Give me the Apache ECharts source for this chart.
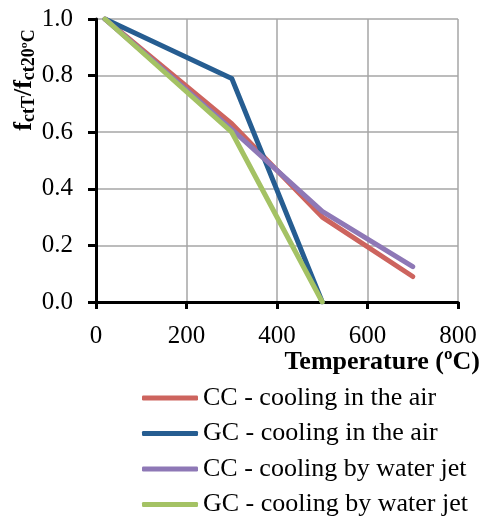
<!DOCTYPE html>
<html><head><meta charset="utf-8">
<script src="https://cdn.jsdelivr.net/npm/echarts@6/dist/echarts.min.js"></script>
<style>html,body{margin:0;padding:0;background:#fff}#c{width:483px;height:517px}</style>
</head><body><div id="c"></div>
<script>
const seriesNames = ['CC - cooling in the air','GC - cooling in the air','CC - cooling by water jet','GC - cooling by water jet'];
const ccAirX = [20, 300, 500, 700];
const ccAirY = [1.0, 0.63, 0.30, 0.09];
const gcAirX = [20, 300, 500];
const gcAirY = [1.0, 0.79, 0.0];
const ccWaterX = [20, 300, 500, 700];
const ccWaterY = [1.0, 0.61, 0.32, 0.125];
const gcWaterX = [20, 300, 500];
const gcWaterY = [1.0, 0.60, 0.0];
const colors = ['#CD645E','#265D91','#8E78B6','#A4C264'];
const xs = [ccAirX, gcAirX, ccWaterX, gcWaterX];
const ys = [ccAirY, gcAirY, ccWaterY, gcWaterY];
const font = '"Liberation Serif","Times New Roman",serif';
const chart = echarts.init(document.getElementById('c'), null, {renderer:'canvas'});
chart.setOption({
  animation:false,
  backgroundColor:'#fff',
  grid:{left:96,right:24,top:19,bottom:215,containLabel:false},
  xAxis:{type:'value',min:0,max:800,interval:200,
    axisLine:{show:true,onZero:false,lineStyle:{color:'#000',width:3}},
    axisTick:{show:true,inside:false,length:7,lineStyle:{color:'#000',width:3}},
    axisLabel:{color:'#000',fontFamily:font,fontSize:25,margin:22},
    splitLine:{show:true,lineStyle:{color:'#a6a6a6',width:1.5}},
    name:'Temperature (ºC)',nameLocation:'end',nameGap:0,
    nameTextStyle:{color:'#000',fontFamily:font,fontSize:26,fontWeight:'bold',align:'right',verticalAlign:'top',padding:[47,-22,0,0]}
  },
  yAxis:{type:'value',min:0,max:1,interval:0.2,
    axisLine:{show:true,onZero:false,lineStyle:{color:'#000',width:3}},
    axisTick:{show:true,inside:false,length:8,lineStyle:{color:'#000',width:3}},
    axisLabel:{color:'#000',fontFamily:font,fontSize:25,margin:23,formatter:v=>v.toFixed(1)},
    splitLine:{show:true,lineStyle:{color:'#a6a6a6',width:1.5}}
  },
  legend:{orient:'vertical',left:137,top:380,height:135,itemWidth:56,itemHeight:5,itemGap:9.5,
    icon:'roundRect',
    textStyle:{color:'#000',fontFamily:font,fontSize:26,lineHeight:26},
    data:seriesNames},
  graphic:[{type:'text',x:24,y:80,rotation:Math.PI/2,
    style:{text:'{b|f}{s|ctT}{b|/f}{s|ct20ºC}',align:'center',verticalAlign:'middle',
      rich:{b:{fontFamily:font,fontSize:26,fontWeight:'bold',fill:'#000'},
            s:{fontFamily:font,fontSize:18,fontWeight:'bold',fill:'#000',verticalAlign:'bottom',padding:[10,0,0,0]}}}}],
  series: seriesNames.map((n,i)=>({name:n,type:'line',showSymbol:false,symbol:'none',
    lineStyle:{color:colors[i],width:5,cap:'round',join:'round'},itemStyle:{color:colors[i]},
    data: xs[i].map((x,j)=>[x,ys[i][j]])}))
});
</script></body></html>
